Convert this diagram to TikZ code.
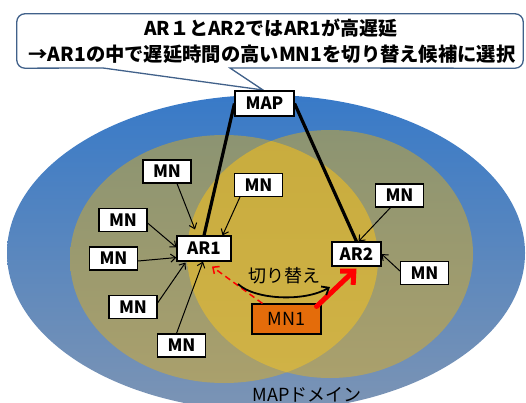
\documentclass[tikz,border=0pt]{standalone}
\usepackage{fontspec}
\setmainfont{Noto Sans CJK JP}
\usetikzlibrary{arrows.meta,backgrounds,calc}
\definecolor{blueTop}{RGB}{56,122,200}
\definecolor{blueBot}{RGB}{124,148,180}
\definecolor{oliveTop}{RGB}{140,148,114}
\definecolor{oliveBot}{RGB}{170,160,108}
\definecolor{lensTop}{RGB}{200,172,62}
\definecolor{lensBot}{RGB}{208,178,70}
\definecolor{mnorange}{RGB}{228,108,10}
\definecolor{calloutline}{RGB}{65,97,138}
\begin{document}
\begin{tikzpicture}[x=1pt,y=-1pt,
  box/.style={draw=black, line width=1.1pt, fill=white, inner sep=0pt,
    font=\bfseries\fontsize{17pt}{17pt}\selectfont,
    minimum width=48pt, minimum height=23pt},
  thinarrow/.style={-{Straight Barb[length=5pt,width=8pt]}, line width=1pt},
  thickline/.style={line width=3.2pt},
  reddash/.style={red, line width=1.5pt, dash pattern=on 6pt off 4pt,
    -{Straight Barb[length=5pt,width=9pt]}},
  redthick/.style={red, line width=5pt, line cap=round,
    -{Straight Barb[length=10pt,width=19pt]}},
  swarrow/.style={line width=1.8pt, -{Straight Barb[length=6pt,width=10pt]}},
  cbox/.style={draw=calloutline, line width=1.3pt, fill=white},
  labeltext/.style={inner sep=0pt, font=\fontsize{18pt}{18pt}\selectfont}
]
\useasboundingbox (0,0) rectangle (526,403);

% callout
\node[minimum width=506pt, minimum height=54pt, inner sep=0pt] (callout) at (270,41) {};
\coordinate (tailL) at (103,68);
\coordinate (tailR) at (230,68);
\coordinate (tailtip) at (263,90);
\draw[cbox] (tailL) -- (tailtip) -- (tailR) [rounded corners=8pt] -- (callout.south east) -- (callout.north east) -- (callout.north west) -- (callout.south west) [sharp corners] -- cycle;
\node[inner sep=0pt, font=\bfseries\fontsize{19pt}{19pt}\selectfont] (line1) at (271,28) {AR１とAR2ではAR1が高遅延};
\node[inner sep=0pt, font=\bfseries\fontsize{19.3pt}{19.3pt}\selectfont] (line2) at (272,54) {→AR1の中で遅延時間の高いMN1を切り替え候補に選択};

% nodes
\node[box, minimum width=59pt, minimum height=25pt] (map) at (264.5,103.5) {MAP};
\node[box, minimum width=54pt, minimum height=25pt] (ar1) at (204,248.5) {AR1};
\node[box, minimum width=49pt, minimum height=24pt] (ar2) at (356.5,254) {AR2};
\node[box] (mna) at (167,171.5) {MN};
\node[box] (mnb) at (123,220) {MN};
\node[box] (mnc) at (113.5,258.5) {MN};
\node[box] (mnd) at (133,307) {MN};
\node[box] (mne) at (181.5,345.5) {MN};
\node[box] (mnf) at (258.5,185) {MN};
\node[box] (mng) at (399.5,195.5) {MN};
\node[box] (mnh) at (424.5,273) {MN};
\node[box, fill=mnorange, minimum width=69pt, minimum height=30pt, font=\fontsize{18pt}{18pt}\selectfont] (mn1) at (286.5,319) {MN1};

\node[labeltext] (swlabel) at (284,276) {切り替え};
\node[labeltext] (domain) at (307,395) {MAPドメイン};

% background: domains and MAP links
\begin{scope}[on background layer]
  \shade[top color=blueTop, bottom color=blueBot] (266,253) ellipse [x radius=259pt, y radius=158pt];
  \shade[top color=oliveTop, bottom color=oliveBot] (224,259) ellipse [x radius=154pt, y radius=124pt];
  \shade[top color=oliveTop, bottom color=oliveBot] (330,254) ellipse [x radius=143pt, y radius=124pt];
  \begin{scope}
    \clip (224,259) ellipse [x radius=154pt, y radius=124pt];
    \shade[top color=lensTop, bottom color=lensBot] (330,254) ellipse [x radius=143pt, y radius=124pt];
  \end{scope}
  \draw[thickline] (map.west) -- (ar1.north);
  \draw[thickline] (map.east) -- (ar2.north);
\end{scope}

% MN -> AR connectors
\draw[thinarrow] ([xshift=10pt]mna.south) -- ([xshift=-9pt,yshift=6pt]ar1.north);
\draw[thinarrow] ([yshift=-3pt]mnb.east) -- ([yshift=1pt]ar1.west);
\draw[thinarrow] ([yshift=-2.5pt]mnc.east) -- ([yshift=4pt]ar1.south west);
\draw[thinarrow] ([yshift=4pt]mnd.east) -- ([xshift=9pt,yshift=-1pt]ar1.south west);
\draw[thinarrow] ([xshift=-5pt]mne.north) -- ([xshift=-1pt]ar1.south);
\draw[thinarrow] ([xshift=6pt]mnf.south west) -- ([xshift=-9pt]ar1.north east);
\draw[thinarrow] ([xshift=-9pt]mng.south) -- ([xshift=2pt]ar2.north);
\draw[thinarrow] ([yshift=2pt]mnh.west) -- (ar2.east);

% handover arrows
\draw[reddash] ([xshift=11pt]mn1.north west) -- ([xshift=8pt,yshift=-5pt]ar1.south);
\draw[redthick] ([xshift=-5pt,yshift=-3pt]mn1.north east) -- ([yshift=-2pt]ar2.south);
\coordinate (swA) at (238,284);
\coordinate (swB) at (330,287);
\draw[swarrow] (swA) .. controls (255,300) and (305,302) .. (swB);
\end{tikzpicture}
\end{document}
